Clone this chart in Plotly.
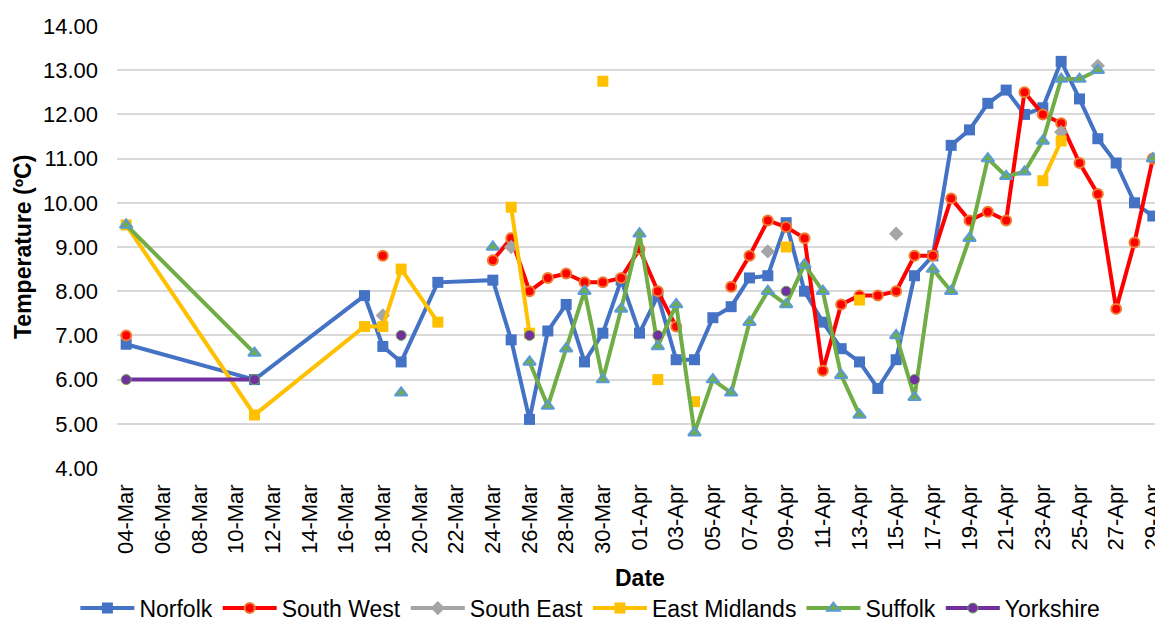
import plotly.graph_objects as go

dates = ["2020-03-04", "2020-03-11", "2020-03-17", "2020-03-18", "2020-03-19", "2020-03-21",
         "2020-03-24", "2020-03-25", "2020-03-26", "2020-03-27", "2020-03-28", "2020-03-29",
         "2020-03-30", "2020-03-31", "2020-04-01", "2020-04-02", "2020-04-03", "2020-04-04",
         "2020-04-05", "2020-04-06", "2020-04-07", "2020-04-08", "2020-04-09", "2020-04-10",
         "2020-04-11", "2020-04-12", "2020-04-13", "2020-04-14", "2020-04-15", "2020-04-16",
         "2020-04-17", "2020-04-18", "2020-04-19", "2020-04-20", "2020-04-21", "2020-04-22",
         "2020-04-23", "2020-04-24", "2020-04-25", "2020-04-26", "2020-04-27", "2020-04-28",
         "2020-04-29"]

N = None
norfolk = [6.8, 6.0, 7.9, 6.75, 6.4, 8.2, 8.25, 6.9, 5.1, 7.1, 7.7, 6.4, 7.05, 8.25, 7.05,
           7.9, 6.45, 6.45, 7.4, 7.65, 8.3, 8.35, 9.55, 8.0, 7.3, 6.7, 6.4, 5.8, 6.45, 8.35,
           8.8, 11.3, 11.65, 12.25, 12.55, 12.0, 12.15, 13.2, 12.35, 11.45, 10.9, 10.0, 9.7]
south_west = [7.0, N, N, 8.8, N, N, 8.7, 9.2, 8.0, 8.3, 8.4, 8.2, 8.2, 8.3, 8.95, 8.0, 7.2,
              N, N, 8.1, 8.8, 9.6, 9.45, 9.2, 6.2, 7.7, 7.9, 7.9, 8.0, 8.8, 8.8, 10.1, 9.6,
              9.8, 9.6, 12.5, 12.0, 11.8, 10.9, 10.2, 7.6, 9.1, 11.0]
south_east = [N, N, N, 7.45, N, N, N, 9.0, N, N, N, N, N, N, N, N, N, N, N, N, N, 8.9, N,
              N, N, N, N, N, 9.3, N, N, N, N, N, N, N, N, 11.6, N, 13.1, N, N, N]
east_midlands = [9.5, 5.2, 7.2, 7.2, 8.5, 7.3, N, 9.9, 7.05, N, N, N, 12.75, N, N, 6.0, N,
                 5.5, N, N, N, N, 9.0, N, N, N, 7.8, N, N, N, N, N, N, N, N, N, 10.5, 11.4,
                 N, N, N, N, N]
suffolk = [9.5, 6.6, N, N, 5.7, N, 9.0, N, 6.4, 5.4, 6.7, 8.0, 6.0, 7.6, 9.3, 6.75, 7.7,
           4.8, 6.0, 5.7, 7.3, 8.0, 7.7, 8.6, 8.0, 6.1, 5.2, N, 7.0, 5.6, 8.5, 8.0, 9.2,
           11.0, 10.6, 10.7, 11.4, 12.8, 12.8, 13.0, N, N, 11.0]
yorkshire = [6.0, 6.0, N, N, 7.0, N, N, N, 7.0, N, N, N, N, N, N, 7.0, N, N, N, N, N, N,
             8.0, N, N, N, N, N, N, 6.0, N, N, N, N, N, N, N, N, N, N, N, N, N]

series = [
    ("Norfolk", norfolk, "#4472C4", dict(symbol="square", size=11, color="#4472C4")),
    ("South West", south_west, "#FF0000",
     dict(symbol="circle", size=10, color="#FF0000", line=dict(color="#ED7D31", width=2))),
    ("South East", south_east, "#A5A5A5", dict(symbol="diamond", size=11, color="#A5A5A5")),
    ("East Midlands", east_midlands, "#FFC000", dict(symbol="square", size=11, color="#FFC000")),
    ("Suffolk", suffolk, "#70AD47",
     dict(symbol="triangle-up", size=11, color="#70AD47", line=dict(color="#5B9BD5", width=2))),
    ("Yorkshire", yorkshire, "#7030A0",
     dict(symbol="circle", size=10, color="#7030A0", line=dict(color="#70AD47", width=1))),
]

fig = go.Figure()
for name, vals, col, mk in series:
    fig.add_trace(go.Scatter(x=dates, y=vals, name=name, mode="lines+markers",
                             line=dict(color=col, width=4), marker=mk,
                             connectgaps=False))

font = "Arial, Liberation Sans, sans-serif"
fig.update_layout(
    width=1155, height=614,
    margin=dict(l=109, r=1, t=18, b=154, autoexpand=False),
    paper_bgcolor="white", plot_bgcolor="white",
    font=dict(family=font, size=21, color="#000000"),
    showlegend=True,
    legend=dict(orientation="h", x=0.453, xanchor="center", y=-0.317, yanchor="middle",
                font=dict(size=23, color="#000000"), itemwidth=54,
                bgcolor="rgba(0,0,0,0)"),
    xaxis=dict(type="date", range=["2020-03-03 12:00", "2020-04-29 12:00"],
               tick0="2020-03-04", dtick=2 * 86400000, tickformat="%d-%b",
               tickangle=-90, showgrid=False, zeroline=False, showline=False,
               ticks="", ticklabelstandoff=11, automargin=False,
               ticklabeloverflow="allow",
               tickfont=dict(size=22, color="#000000")),
    yaxis=dict(range=[4, 14], dtick=1, tickformat=".2f", showgrid=True,
               gridcolor="#D9D9D9", gridwidth=1.5, zeroline=False, showline=False,
               ticks="", ticklabelstandoff=18, automargin=False,
               tickfont=dict(size=22, color="#000000")),
    annotations=[
        dict(text="<b>Temperature (ºC)</b>", xref="paper", yref="paper", x=0, y=0.5,
             xanchor="center", yanchor="middle", xshift=-94, textangle=-90,
             showarrow=False, font=dict(size=23, color="#000000")),
        dict(text="<b>Date</b>", xref="paper", yref="paper", x=0.5, y=0,
             xanchor="center", yanchor="middle", yshift=-110,
             showarrow=False, font=dict(size=23, color="#000000")),
    ],
)

fig.write_html("out.html")
